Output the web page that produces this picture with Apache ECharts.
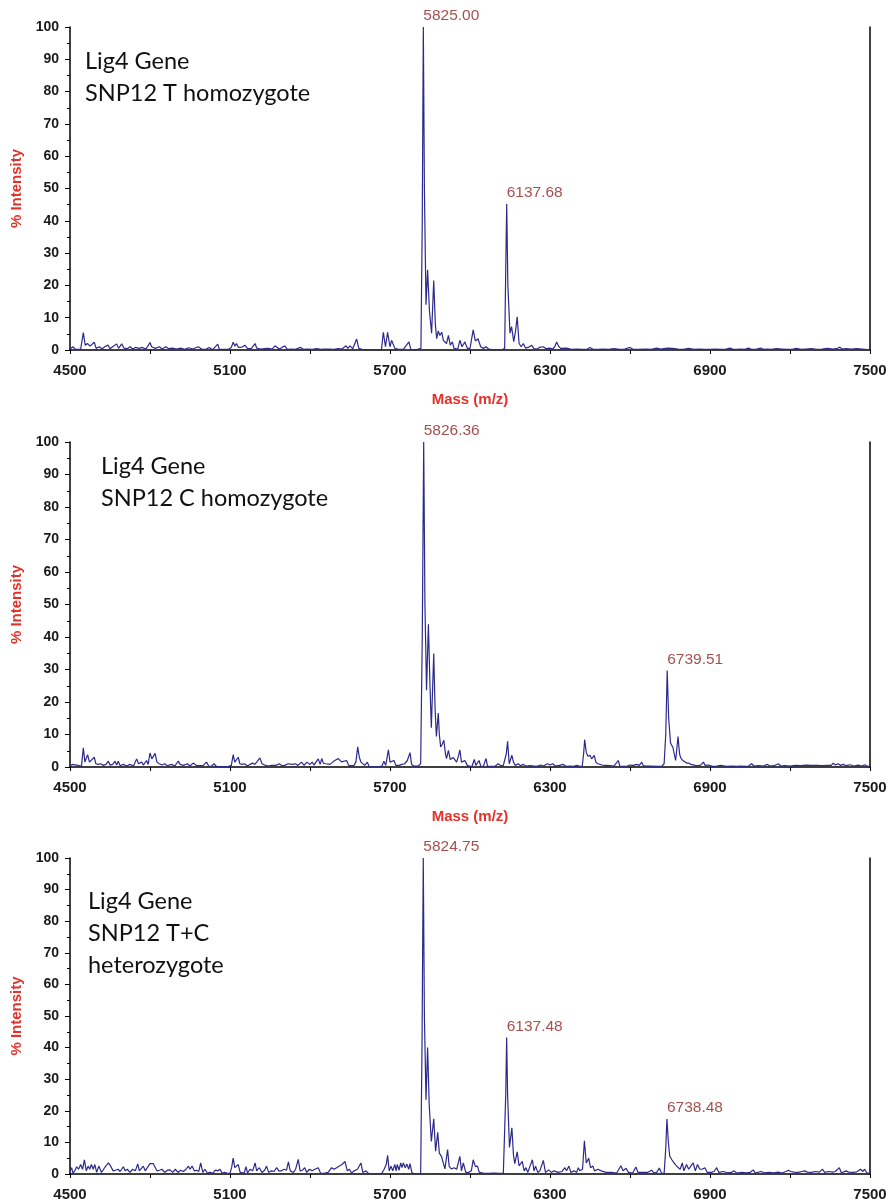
<!DOCTYPE html>
<html>
<head>
<meta charset="utf-8">
<script src="https://cdn.jsdelivr.net/npm/echarts@6/dist/echarts.min.js"></script>
<style>
html,body{margin:0;padding:0;background:#fff;}
#chart{width:896px;height:1204px;}
</style>
</head>
<body>
<div id="chart"></div>
<script>
// ---- DATA ----
const xTicks = [4500, 5100, 5700, 6300, 6900, 7500];
const panelTitles = [
  'Lig4 Gene\nSNP12 T homozygote',
  'Lig4 Gene\nSNP12 C homozygote',
  'Lig4 Gene\nSNP12 T+C\nheterozygote'
];
const peakMass1 = [5825.00, 6137.68];
const peakInt1 = [100, 45.2];
const peakMass2 = [5826.36, 6739.51];
const peakInt2 = [100, 29.7];
const peakMass3 = [5824.75, 6137.48, 6738.48];
const peakInt3 = [100, 43.2, 17.4];

const spec1 = [
[4500,0.3],[4511,1],[4520,0.2],[4540,0.3],[4550,5.4],[4557,1.5],[4565,2],[4575,1.2],[4582,0.8],[4591,2.4],[4598,0.5],[4610,1],[4620,0.3],[4630,1],[4643,1.5],[4650,0.4],[4660,1],[4675,1.9],[4682,0.5],[4694,1.9],[4702,0.6],[4715,0.4],[4725,1],[4735,0.3],[4745,0.8],[4760,0.5],[4770,0.8],[4785,0.3],[4800,2.3],[4806,1],[4812,1.5],[4820,0.5],[4835,1],[4845,0.3],[4860,1],[4870,0.4],[4885,0.6],[4900,0.3],[4915,0.6],[4930,0.2],[4945,0.7],[4960,0.3],[4981,1],[4995,0.2],[5010,0.2],[5022,0.8],[5035,0.1],[5054,1.8],[5060,0.2],[5080,0.2],[5095,0.3],[5105,0.8],[5112,2.4],[5118,1.2],[5124,2],[5132,0.8],[5145,0.9],[5156,1.5],[5165,0.5],[5180,0.4],[5194,2],[5200,0.6],[5215,0.3],[5230,0.4],[5245,0.5],[5258,0.3],[5269,1.3],[5277,0.8],[5285,0.3],[5306,1.3],[5315,0.2],[5330,0.3],[5345,0.2],[5365,0.8],[5375,0.2],[5390,0.3],[5410,0.2],[5425,0.4],[5440,0.2],[5455,0.3],[5470,0.3],[5490,0.2],[5505,0.4],[5520,0.3],[5535,1.3],[5542,0.5],[5550,1.3],[5560,0.4],[5575,3.4],[5583,0.5],[5595,0.2],[5620,0.1],[5650,0.1],[5668,0.1],[5675,5.5],[5683,1],[5691,5.5],[5700,1],[5706,3],[5712,2.8],[5718,0.5],[5722,1],[5732,0.2],[5750,0.2],[5771,2.5],[5778,0.2],[5800,0.1],[5816,0.5],[5821,40],[5825,100],[5829,50],[5835,14],[5841,24.8],[5848,12],[5856,5.2],[5864,21.5],[5870,8],[5875,3.5],[5881,5.9],[5887,4.5],[5894,5.5],[5900,3],[5905,2.5],[5912,2],[5919,4.5],[5926,1.5],[5934,2.5],[5940,0.5],[5946,1],[5954,0.3],[5962,3],[5970,1],[5981,2.5],[5990,0.5],[6000,0.5],[6012,6.2],[6020,2.8],[6030,3.5],[6040,1],[6050,0.5],[6060,1],[6070,0.3],[6081,0.2],[6100,0.1],[6120,0.1],[6130,0.5],[6134,25],[6137.68,45.2],[6142,20],[6150,5.2],[6156,7.2],[6164,2.6],[6171,6],[6177,10.3],[6184,2],[6192,1],[6200,2],[6208,0.6],[6218,0.8],[6231,1.5],[6240,0.4],[6252,0.3],[6260,0.8],[6275,1],[6285,0.4],[6300,0.6],[6310,0.3],[6318,1],[6325,2.5],[6332,1.2],[6340,0.5],[6362,0.6],[6380,0.2],[6400,0.3],[6420,0.2],[6440,0.3],[6450,0.8],[6460,0.3],[6480,0.2],[6500,0.3],[6520,0.2],[6540,0.4],[6560,0.2],[6580,0.3],[6600,0.8],[6610,0.3],[6630,0.2],[6660,0.3],[6680,0.2],[6700,0.6],[6715,0.3],[6740,0.6],[6760,0.5],[6780,0.3],[6800,0.2],[6820,0.5],[6840,0.2],[6860,0.3],[6880,0.2],[6900,0.2],[6920,0.3],[6940,0.2],[6960,0.3],[6975,0.6],[6985,0.3],[7000,0.2],[7015,0.3],[7030,0.2],[7045,0.6],[7055,0.2],[7075,0.3],[7090,0.6],[7100,0.2],[7115,0.3],[7130,0.2],[7150,0.4],[7170,0.3],[7190,0.2],[7210,0.3],[7225,0.5],[7240,0.2],[7260,0.3],[7280,0.4],[7300,0.2],[7320,0.3],[7340,0.5],[7360,0.3],[7375,0.4],[7387,0.9],[7395,0.3],[7410,0.4],[7430,0.3],[7450,0.4],[7470,0.3],[7490,0.1],[7500,0]
];

const spec2 = [
[4500,0.3],[4508,0.8],[4515,0.2],[4530,0.5],[4543,0.2],[4550,5.9],[4556,1.5],[4561,2],[4566,3.8],[4573,1.5],[4580,1],[4591,3],[4597,1],[4605,0.8],[4615,1],[4625,0.5],[4635,0.8],[4644,1.8],[4650,0.6],[4660,0.8],[4669,1.8],[4675,0.6],[4681,1.8],[4688,0.4],[4700,0.8],[4712,0.3],[4725,0.8],[4738,0.3],[4750,2.5],[4757,1],[4769,1.5],[4775,0.6],[4787,2],[4793,0.8],[4800,4.3],[4807,2.5],[4812,2.6],[4819,4.2],[4826,1.5],[4835,1],[4845,0.6],[4855,1],[4865,0.4],[4880,0.8],[4893,0.3],[4906,1.8],[4913,0.8],[4925,0.5],[4940,1],[4950,0.3],[4962,1.2],[4975,0.4],[4990,0.4],[5000,0.5],[5012,1.5],[5020,0.3],[5030,0.2],[5040,1],[5050,0.1],[5065,0.1],[5080,0.1],[5095,0.2],[5105,0.5],[5112,3.8],[5118,1.5],[5124,1.8],[5131,3],[5137,1],[5145,0.8],[5155,1],[5165,0.3],[5175,0.8],[5185,1.2],[5193,0.8],[5200,1.5],[5212,2.8],[5220,1],[5230,0.6],[5245,0.3],[5255,0.5],[5262,1],[5272,0.5],[5285,1],[5295,0.4],[5305,0.5],[5318,1],[5325,1.5],[5335,0.8],[5345,1],[5355,0.5],[5368,1.5],[5378,0.5],[5388,1.5],[5394,2],[5400,0.8],[5408,1.5],[5415,0.6],[5425,1.8],[5431,2.5],[5438,0.8],[5444,2.6],[5450,1.2],[5458,1],[5465,1.5],[5475,0.8],[5485,1.5],[5493,2],[5500,2.2],[5506,2.6],[5512,2],[5518,1.6],[5525,1.2],[5537,2],[5545,0.5],[5555,0.4],[5565,0.5],[5572,1.5],[5579,6.2],[5585,3],[5591,1.5],[5597,2],[5605,0.5],[5615,1.5],[5622,0.1],[5640,0],[5660,0.1],[5670,0.3],[5677,1.8],[5684,0.5],[5694,5.3],[5700,1.5],[5706,1],[5715,2],[5722,0.5],[5735,0.5],[5745,0.8],[5755,1],[5765,2],[5775,4.4],[5781,0.8],[5790,0.3],[5805,0.3],[5815,1],[5821,40],[5826.36,100],[5831,50],[5837,23.6],[5844,43.9],[5850,25],[5855,12.1],[5864,34.9],[5869,18],[5874,9.4],[5881,16.6],[5885,10],[5890,6.2],[5896,7],[5902,8.2],[5908,4],[5912,2.6],[5919,5.1],[5926,2.3],[5931,2],[5937,2.9],[5944,2.5],[5950,1.5],[5957,3.5],[5962,5.3],[5968,1.5],[5975,1.2],[5981,2],[5990,0.5],[6000,0.2],[6008,0.3],[6016,2.3],[6022,0.5],[6028,0.4],[6034,2],[6040,0.3],[6050,0.2],[6060,2.6],[6066,0.2],[6080,0.2],[6095,0.3],[6106,1],[6115,0.4],[6125,0.5],[6131,0.5],[6136,4],[6141,7.9],[6147,1],[6152,1.5],[6157,3.6],[6163,1.5],[6170,0.5],[6181,1],[6190,0.4],[6200,0.8],[6210,0.3],[6225,0.4],[6240,0.3],[6250,0.2],[6265,0.6],[6275,0.3],[6290,1],[6300,0.6],[6310,1],[6320,0.3],[6335,0.5],[6350,0.8],[6360,0.2],[6375,0.3],[6390,0.2],[6400,0.5],[6412,0.2],[6421,0.3],[6426,4],[6430,8.4],[6436,4.5],[6442,3.3],[6447,3.8],[6450,3.6],[6456,2.5],[6461,2.3],[6466,3.6],[6472,1.5],[6480,1],[6487,1.2],[6495,0.6],[6502,1],[6510,0.5],[6517,0.8],[6525,0.4],[6530,1],[6540,0.3],[6547,0.8],[6556,2],[6562,0.3],[6575,0.2],[6590,0.3],[6600,0.6],[6606,1.2],[6613,0.5],[6625,0.8],[6635,0.5],[6644,1.5],[6650,0.4],[6660,0.3],[6680,0.3],[6700,0.2],[6720,0.3],[6728,1],[6734,10],[6739.51,29.7],[6745,15],[6752,7.4],[6761,6],[6766,4],[6771,2],[6775,5],[6780,9.4],[6786,4],[6790,2.9],[6798,2],[6805,1.5],[6812,1.2],[6820,1.2],[6828,0.8],[6835,1.2],[6845,0.5],[6855,0.4],[6865,0.6],[6875,1.5],[6882,0.5],[6895,0.6],[6910,0.2],[6925,0.3],[6940,0.5],[6960,0.2],[6980,0.3],[7000,0.2],[7015,0.3],[7035,0.2],[7045,0.3],[7056,1],[7065,0.3],[7080,0.4],[7100,0.3],[7115,0.8],[7125,0.3],[7140,0.4],[7156,1],[7165,0.3],[7180,0.4],[7200,0.3],[7220,0.5],[7240,0.4],[7260,0.6],[7280,0.5],[7300,0.5],[7320,0.4],[7340,0.5],[7355,0.5],[7362,1.2],[7370,0.6],[7380,1],[7390,0.5],[7400,0.8],[7410,0.4],[7425,0.7],[7440,0.3],[7455,0.6],[7470,0.3],[7480,0.7],[7490,0.2],[7500,0.3]
];

const spec3 = [
[4500,1],[4506,2],[4511,0.3],[4518,1],[4525,2.3],[4532,1.5],[4540,3],[4547,1.5],[4554,4.5],[4561,1],[4568,2.5],[4574,1.5],[4580,3],[4587,1.5],[4593,3],[4600,0.5],[4608,2.5],[4612,2.8],[4618,0.5],[4626,1.5],[4634,2.5],[4644,3.5],[4650,2.8],[4656,3],[4662,1],[4670,1.2],[4680,1.5],[4688,0.8],[4700,2.3],[4707,1],[4715,1.5],[4725,0.5],[4735,1.5],[4745,1],[4754,3.2],[4760,1],[4766,1.5],[4775,2.5],[4782,1],[4790,2],[4800,3.3],[4806,3],[4812,3.3],[4819,3.5],[4826,1],[4835,1.2],[4845,1.5],[4855,0.5],[4865,1.2],[4875,1.3],[4885,0.5],[4895,1.5],[4905,0.5],[4915,1.2],[4925,0.8],[4935,1.5],[4944,2.5],[4950,1.5],[4958,2.5],[4966,1],[4975,1.2],[4983,0.8],[4990,3.5],[4998,0.5],[5006,1.5],[5015,0.3],[5025,0.5],[5035,0.2],[5045,1.2],[5055,1],[5063,1.5],[5070,0.2],[5080,0.5],[5090,0.2],[5100,0.2],[5106,2],[5112,5],[5118,2],[5125,1.5],[5131,3],[5138,0.5],[5145,1],[5153,0.3],[5160,2.3],[5166,0.3],[5175,1.5],[5185,1],[5194,3.5],[5200,1],[5210,2],[5220,0.5],[5230,1.2],[5237,2.5],[5245,0.5],[5255,1],[5265,0.8],[5275,2],[5283,1],[5293,1],[5303,1.5],[5312,1.2],[5319,3.8],[5326,1],[5338,0.5],[5346,1.5],[5356,4.6],[5363,1],[5372,1.2],[5380,2],[5388,0.5],[5398,1.5],[5408,1],[5418,1.5],[5431,2],[5440,0.2],[5455,0.3],[5468,0.5],[5481,2],[5490,1.5],[5500,2],[5510,2.5],[5520,3],[5531,4],[5540,1],[5548,1.5],[5556,0.3],[5565,1],[5578,1.5],[5591,3.5],[5598,0.5],[5610,1],[5620,0.1],[5640,0],[5660,0.1],[5669,0.2],[5678,1.5],[5686,3],[5691,5.9],[5697,1],[5704,2.5],[5710,1],[5718,3],[5723,1],[5727,3],[5734,1.2],[5740,3.5],[5745,2],[5750,3.5],[5757,2],[5763,3.2],[5770,1.5],[5775,3.3],[5782,0.5],[5790,0.1],[5805,0],[5815,0.2],[5820,40],[5824.75,100],[5829,50],[5835,23.5],[5841,40],[5847,22],[5855,10.3],[5864,17.5],[5871,7.2],[5879,13.2],[5885,6.6],[5893,5.6],[5900,5.6],[5906,1.6],[5916,7.7],[5922,2.4],[5930,1.6],[5940,2],[5950,1.5],[5962,5.6],[5968,1],[5975,3.5],[5984,0.5],[5995,0.5],[6005,1],[6012,4.5],[6020,2.4],[6028,2.5],[6035,0.5],[6050,0.3],[6070,0.2],[6090,0.3],[6110,0.2],[6125,0.2],[6130,0.5],[6134,25],[6137.48,43.2],[6141,25],[6148,8.4],[6157,14.6],[6163,6],[6168,3.3],[6177,7],[6184,2.6],[6196,4],[6203,1],[6210,2],[6217,0.5],[6225,2.5],[6234,4.5],[6240,1],[6246,2.5],[6254,0.5],[6262,1],[6275,4.3],[6283,0.5],[6295,1.3],[6305,0.5],[6315,1],[6330,0.5],[6345,0.8],[6356,2],[6362,1],[6371,2.5],[6378,0.5],[6390,1],[6400,0.5],[6406,2],[6412,1],[6422,1.5],[6429,10.5],[6436,3.5],[6445,5],[6452,2],[6461,2.5],[6467,1],[6480,1.5],[6492,1],[6510,0.5],[6530,0.5],[6550,0.3],[6566,2.6],[6574,1],[6585,1.8],[6594,0.5],[6610,0.3],[6622,2.2],[6630,0.5],[6650,0.5],[6665,0.5],[6681,1.2],[6690,0.3],[6700,0.5],[6710,1.9],[6718,0.3],[6728,0.2],[6734,8],[6738.48,17.4],[6744,10],[6749,5.6],[6757,4.5],[6765,3.5],[6775,2.5],[6782,3],[6788,1.5],[6796,3.5],[6802,1],[6812,3],[6820,1.5],[6828,2.5],[6837,3.5],[6845,1],[6853,3],[6862,1.5],[6870,1.5],[6881,2],[6890,0.5],[6905,0.5],[6915,0.8],[6925,2],[6933,0.5],[6950,0.8],[6965,0.4],[6980,0.5],[6990,1],[7000,0.3],[7020,0.5],[7035,0.4],[7050,0.5],[7062,1.3],[7070,0.3],[7090,0.8],[7105,0.4],[7120,0.5],[7140,0.4],[7155,0.6],[7170,0.3],[7185,0.8],[7194,1.2],[7202,0.8],[7215,0.6],[7230,0.5],[7245,0.8],[7255,1],[7265,0.6],[7280,0.5],[7295,0.8],[7310,0.6],[7322,1.5],[7330,0.5],[7345,0.8],[7360,0.6],[7370,0.8],[7385,2],[7392,0.5],[7400,0.6],[7410,1],[7420,0.6],[7435,0.5],[7450,0.7],[7465,1.5],[7472,0.8],[7480,1.5],[7488,0.3],[7495,0.6],[7500,0.3]
];

// ---- CHART ----
const specs = [spec1, spec2, spec3];
const peaks = [[peakMass1, peakInt1], [peakMass2, peakInt2], [peakMass3, peakInt3]];
const grids = [
  {left: 70, right: 26, top: 27, height: 323},
  {left: 70, right: 26, top: 442, height: 325},
  {left: 70, right: 26, top: 858, height: 316}
];
const titlePos = [[85, 45], [101, 450], [88, 885]];
const showXName = [true, true, false];

const AXIS_FONT = 'Liberation Sans, Arial, Helvetica, sans-serif';
const RED = '#e2322a';
const LINE = '#2b2a8c';
const ANNOT = '#8e2320';

const option = {
  animation: false,
  backgroundColor: '#fff',
  grid: grids,
  xAxis: [], yAxis: [], series: [], graphic: []
};

for (let i = 0; i < 3; i++) {
  option.xAxis.push({
    type: 'value', gridIndex: i, min: 4500, max: 7500, interval: 300,
    name: showXName[i] ? 'Mass (m/z)' : '',
    nameLocation: 'middle', nameGap: 42,
    nameTextStyle: {color: RED, fontWeight: 'bold', fontSize: 15, fontFamily: AXIS_FONT},
    axisLine: {show: true, onZero: false, lineStyle: {color: '#000', width: 1.5}},
    axisTick: {show: true, length: 4, inside: false, lineStyle: {color: '#000', width: 1}},
    axisLabel: {
      margin: 13, color: '#1a1a1a', fontWeight: 'bold', fontSize: 15, fontFamily: AXIS_FONT,
      formatter: v => (xTicks.indexOf(v) >= 0 ? String(v) : '')
    },
    splitLine: {show: false}
  });
  option.yAxis.push({
    type: 'value', gridIndex: i, min: 0, max: 100, interval: 10,
    name: '% Intensity', nameLocation: 'middle', nameGap: 45,
    nameTextStyle: {color: RED, fontWeight: 'bold', fontSize: 15, fontFamily: AXIS_FONT},
    axisLine: {show: true, lineStyle: {color: '#000', width: 1.5}},
    axisTick: {show: true, length: 5, lineStyle: {color: '#000', width: 1}},
    minorTick: {show: true, splitNumber: 2, length: 3, lineStyle: {color: '#000', width: 1}},
    axisLabel: {margin: 11, color: '#1a1a1a', fontWeight: 'bold', fontSize: 14, fontFamily: AXIS_FONT},
    splitLine: {show: false}, minorSplitLine: {show: false}
  });
  option.yAxis.push({
    type: 'value', gridIndex: i, min: 0, max: 100, position: 'right',
    axisLine: {show: true, lineStyle: {color: '#000', width: 1.5}},
    axisTick: {show: false}, axisLabel: {show: false}, splitLine: {show: false}
  });
  option.series.push({
    type: 'line', xAxisIndex: i, yAxisIndex: 2 * i,
    data: specs[i], showSymbol: false, symbol: 'none',
    lineStyle: {color: LINE, width: 1.2}, silent: true
  });
  const [pm, pi] = peaks[i];
  option.series.push({
    type: 'scatter', xAxisIndex: i, yAxisIndex: 2 * i,
    data: pm.map((m, k) => [m, pi[k]]),
    symbolSize: 0, silent: true,
    label: {
      show: true, position: 'top', align: 'left', distance: 3,
      formatter: p => p.value[0].toFixed(2),
      color: ANNOT, fontSize: 15.5, fontFamily: AXIS_FONT
    }
  });
  option.graphic.push({
    type: 'text', left: titlePos[i][0], top: titlePos[i][1],
    style: {text: panelTitles[i], font: '23.5px Lato, "Open Sans", sans-serif', fill: '#111', lineHeight: 32}
  });
}

const chart = echarts.init(document.getElementById('chart'), null, {renderer: 'canvas'});
chart.setOption(option);
</script>
</body>
</html>
